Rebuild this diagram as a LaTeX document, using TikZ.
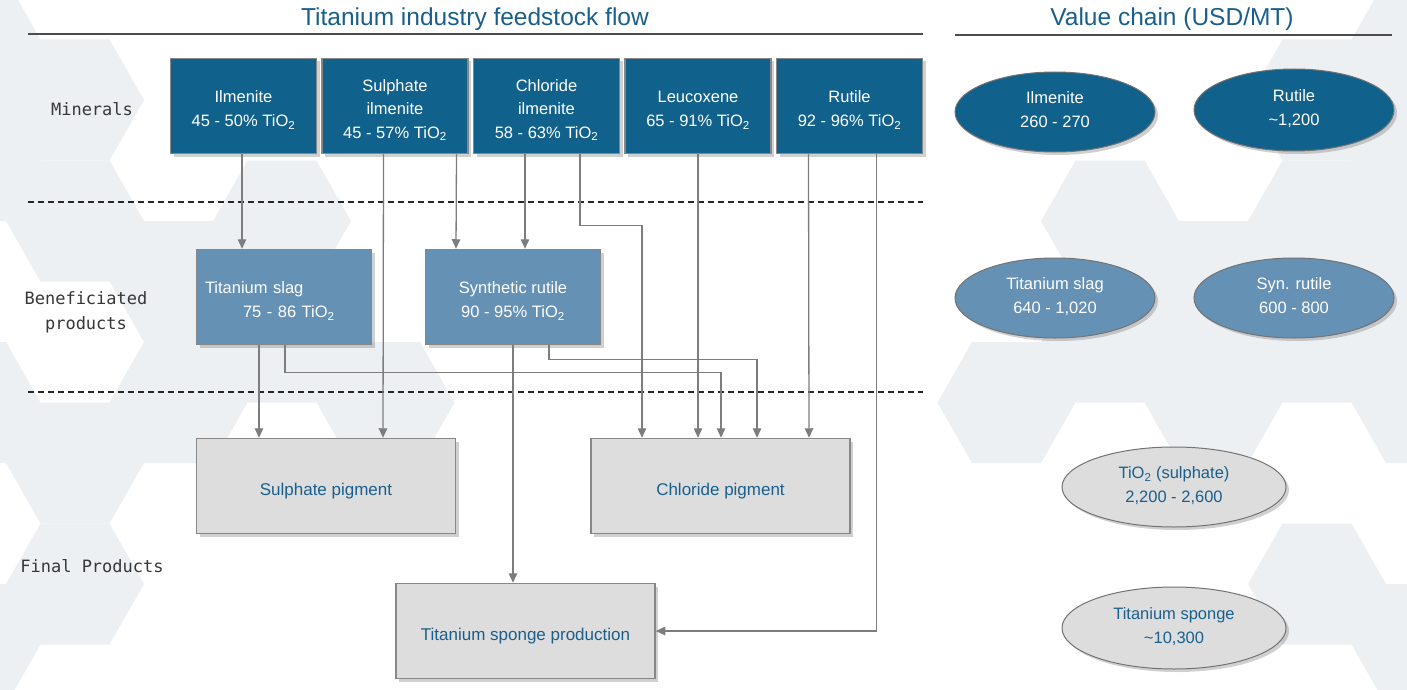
\documentclass[tikz,border=0pt]{standalone}
\usepackage{fontspec}
\setmainfont{Liberation Sans}
\setmonofont{DejaVu Sans Mono}
\usepackage{tikz}
\usetikzlibrary{calc, arrows.meta, positioning, shapes.geometric, shadows}

\definecolor{mineralblue}{RGB}{17,97,141}
\definecolor{beneblue}{RGB}{101,145,181}
\definecolor{finalgrey}{RGB}{221,221,221}
\definecolor{boxline}{RGB}{135,135,135}
\definecolor{flowgrey}{RGB}{125,125,125}
\definecolor{titleblue}{RGB}{26,95,140}
\definecolor{hexbg}{RGB}{236,240,243}
\definecolor{labelgrey}{RGB}{55,55,55}

\newcommand{\mtop}{\rule{0pt}{20pt}}

\begin{document}
\begin{tikzpicture}[x=1pt, y=-1pt,
	boxshadow/.style={drop shadow={shadow xshift=3pt, shadow yshift=-3pt, opacity=.3, fill=black!60}},
	mineral/.style={draw=boxline, line width=1.5pt, fill=mineralblue, text=white, minimum width=146pt, minimum height=95pt, inner sep=0pt, align=center, font=\fontsize{16.5}{23.5}\selectfont, boxshadow},
	benebox/.style={mineral, fill=beneblue, minimum width=175pt},
	finalbox/.style={mineral, fill=finalgrey, text=titleblue, minimum width=259pt, font=\fontsize{17}{23.5}\selectfont, execute at begin node={\rule{0pt}{22pt}}},
	valueoval/.style={ellipse, draw=black!55, line width=1pt, fill=mineralblue, text=white, minimum width=200pt, minimum height=80pt, inner sep=0pt, align=center, font=\fontsize{16.5}{24}\selectfont, execute at end node={\rule[-5pt]{0pt}{0pt}}, boxshadow},
	rowlabel/.style={text=labelgrey, align=center, font=\ttfamily\fontsize{17}{25}\selectfont},
	titletext/.style={text=titleblue, anchor=base, font=\fontsize{24.5}{29}\selectfont},
	flow/.style={draw=flowgrey, line width=1.3pt, -{Triangle[length=9.5pt, width=8.5pt]}},
	rule/.style={draw=black!70, line width=1.6pt},
	sep/.style={draw=black!85, line width=1.3pt, dash pattern=on 6pt off 4pt}]
	\useasboundingbox (0,0) rectangle (1407,690);
	\fill[white] (0,0) rectangle (1407,690);
	\foreach \k/\cy in {-1/39.5, -1/160.5, -1/402.5, -1/644.5, 0/100, 0/221, 0/463, 0/584, 1/281.5, 1/402.5, 2/221, 2/342, 3/402.5, 9/402.5, 10/221, 10/342, 11/281.5, 11/402.5, 12/100, 12/221, 12/342, 12/584, 13/39.5, 13/160.5, 13/281.5, 13/402.5, 13/644.5}
		\fill[hexbg] ({75+103.5*\k+69},\cy) -- ++(-34.5,-60.5) -- ++(-69,0) -- ++(-34.5,60.5) -- ++(34.5,60.5) -- ++(69,0) -- cycle;

	\node[titletext] (flowtitle) at (475,25.5) {Titanium industry feedstock flow};
	\node[titletext] (valtitle) at (1172,25.5) {Value chain (USD/MT)};
	\draw[rule] (28,34) -- (923,34);
	\draw[rule] (955,35) -- (1392,35);
	\draw[sep] (28,202) -- (923,202);
	\draw[sep] (28,392) -- (923,392);

	\node[rowlabel] (minlab) at (92,109) {Minerals};
	\node[rowlabel] (benlab) at (86,312) {Beneficiated\\products};
	\node[rowlabel] (finlab) at (92,566) {Final Products};

	\node[mineral] (ilm) at (243.5,106) {\mtop Ilmenite\\45 - 50\% TiO\textsubscript{2}};
	\node[mineral, right=4pt of ilm] (sulil) {\mtop Sulphate\\ilmenite\\45 - 57\% TiO\textsubscript{2}};
	\node[mineral, right=4pt of sulil] (chlil) {\mtop Chloride\\ilmenite\\58 - 63\% TiO\textsubscript{2}};
	\node[mineral, right=4pt of chlil] (leu) {\mtop Leucoxene\\65 - 91\% TiO\textsubscript{2}};
	\node[mineral, right=4pt of leu] (rut) {\mtop Rutile\\92 - 96\% TiO\textsubscript{2}};

	\node[benebox, text width=158pt, align=left] (slag) at (284,297) {\mtop Titanium slag\\\hspace*{38pt}75 - 86 TiO\textsubscript{2}};
	\node[benebox] (synr) at (513,297) {\mtop Synthetic rutile\\90 - 95\% TiO\textsubscript{2}};

	\node[finalbox] (sulpig) at (326,486) {Sulphate pigment};
	\node[finalbox] (clpig) at (720.5,486) {Chloride pigment};
	\node[finalbox] (sponge) at (525.5,631) {Titanium sponge production};

	\draw[flow] ([xshift=-1.5pt]ilm.south) -- ([xshift=-42pt]slag.north);
	\draw[flow] ([xshift=-11.5pt]sulil.south) -- ([xshift=57pt]sulpig.north);
	\draw[flow] ([xshift=61.5pt]sulil.south) -- ([xshift=-57pt]synr.north);
	\draw[flow] ([xshift=-21.5pt]chlil.south) -- ([xshift=12pt]synr.north);
	\draw[flow] ([xshift=33.5pt]chlil.south) -- ++(0,71) -| ([xshift=-78.5pt]clpig.north);
	\draw[flow] (leu.south) -- (leu.south |- clpig.north);
	\draw[flow] ([xshift=-41pt]rut.south) -- ([xshift=88.5pt]clpig.north);
	\draw[flow] ([xshift=27pt]rut.south) |- (sponge.east);
	\draw[flow] ([xshift=-25pt]slag.south) -- ([xshift=-67pt]sulpig.north);
	\draw[flow] ([xshift=1pt]slag.south) -- ++(0,27) -| ([xshift=0.5pt]clpig.north);
	\draw[flow] (synr.south) -- ([xshift=-12.5pt]sponge.north);
	\draw[flow] ([xshift=36pt]synr.south) -- ++(0,14) -| ([xshift=36.5pt]clpig.north);

	\node[valueoval] (ilmv) at (1055,112) {Ilmenite\\260 - 270};
	\node[valueoval, minimum height=82pt] (rutv) at (1294,110) {Rutile\\\textasciitilde1,200};
	\node[valueoval, fill=beneblue] (slagv) at (1055,298) {Titanium slag\\640 - 1,020};
	\node[valueoval, fill=beneblue] (synv) at (1294,298) {Syn. rutile\\600 - 800};
	\node[valueoval, fill=finalgrey, text=titleblue, minimum width=224pt] (tiov) at (1174,487) {TiO\textsubscript{2} (sulphate)\\2,200 - 2,600};
	\node[valueoval, fill=finalgrey, text=titleblue, minimum width=224pt, minimum height=82pt] (spongev) at (1174,628) {Titanium sponge\\\textasciitilde10,300};
\end{tikzpicture}
\end{document}
